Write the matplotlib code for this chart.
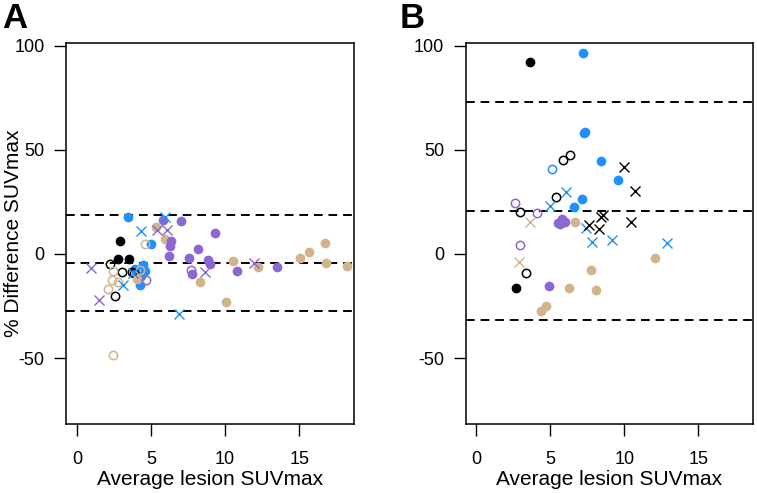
import matplotlib.pyplot as plt
import numpy as np

plt.rcParams['font.family'] = ['Liberation Sans', 'DejaVu Sans']
plt.rcParams['axes.unicode_minus'] = False

BLUE = '#1E90FF'
PURPLE = '#8C67D2'
TAN = '#D2B48C'
BLACK = '#000000'

# panel A: (x = average SUVmax, y = % difference)
a_blue_dot_x = [3.42, 5.0, 4.45, 4.6, 4.25, 3.9, 4.35]
a_blue_dot_y = [17.9, 4.7, -5.3, -8.3, -14.9, -7.0, -10.5]
a_black_dot_x = [2.9, 2.8, 3.53]
a_black_dot_y = [6.4, -2.3, -2.3]
a_black_open_x = [2.23, 3.02, 3.72, 3.82, 2.57]
a_black_open_y = [-4.8, -8.8, -8.6, -8.9, -20.0]
a_tan_open_x = [4.6, 2.45, 2.34, 2.12, 2.8, 4.26, 2.41]
a_tan_open_y = [4.7, -8.0, -12.3, -16.7, -13.3, -7.9, -48.7]
a_tan_dot_x = [5.36, 5.93, 4.06, 8.3, 10.07, 10.5, 12.2, 15.07, 15.63, 16.72, 16.82, 18.2]
a_tan_dot_y = [13.1, 7.1, -12.0, -13.6, -23.2, -3.3, -6.2, -1.7, 0.8, 5.4, -4.2, -5.6]
a_purple_dot_x = [5.79, 7.05, 9.3, 6.37, 6.28, 6.24, 8.15, 7.55, 8.83, 8.98, 7.75, 10.83, 13.48]
a_purple_dot_y = [16.3, 15.7, 10.3, 6.4, 3.8, -1.0, 2.3, -1.7, -2.9, -4.6, -9.6, -8.1, -6.1]
a_purple_open_x = [7.68, 4.65]
a_purple_open_y = [-7.8, -12.3]
a_purple_x_x = [0.95, 1.49, 5.38, 6.06, 8.62, 11.95]
a_purple_x_y = [-6.9, -22.0, 11.5, 11.7, -8.8, -4.2]
a_blue_x_x = [4.29, 5.95, 6.87, 3.13, 3.8]
a_blue_x_y = [11.0, 17.9, -28.9, -14.9, -8.9]
a_limits = [18.75, -4.2, -27.2]

# panel B
b_black_dot_x = [3.65, 2.66]
b_black_dot_y = [92.5, -16.2]
b_blue_dot_x = [7.2, 7.25, 7.35, 8.45, 9.57, 7.12, 6.6]
b_blue_dot_y = [96.8, 58.3, 58.6, 44.9, 35.6, 26.3, 22.8]
b_blue_open_x = [5.13]
b_blue_open_y = [40.7]
b_black_open_x = [5.85, 6.33, 5.36, 2.93, 3.33]
b_black_open_y = [45.2, 47.6, 27.6, 20.3, -9.0]
b_purple_open_x = [2.63, 4.12, 2.93]
b_purple_open_y = [24.7, 19.9, 4.3]
b_purple_dot_x = [5.5, 5.8, 6.0, 5.65, 4.91]
b_purple_dot_y = [15.0, 16.6, 15.4, 14.6, -15.2]
b_tan_dot_x = [6.64, 7.72, 8.1, 6.24, 4.73, 4.39, 12.1]
b_tan_dot_y = [15.2, -7.7, -17.3, -16.2, -24.8, -27.2, -1.8]
b_tan_x_x = [3.6, 2.88]
b_tan_x_y = [15.5, -3.7]
b_blue_x_x = [4.95, 6.03, 7.43, 7.8, 9.18, 12.88]
b_blue_x_y = [23.1, 30.0, 12.7, 5.9, 6.5, 5.5]
b_black_x_x = [9.95, 10.7, 8.55, 8.45, 7.61, 8.28, 10.47]
b_black_x_y = [42.0, 30.3, 18.8, 17.9, 13.9, 11.9, 15.2]
b_limits = [73.2, 20.7, -31.7]

fig = plt.figure(figsize=(7.57, 4.93), dpi=100)
axA = fig.add_axes([66 / 757, 1 - 424 / 493, 288 / 757, 381 / 493])
axB = fig.add_axes([465.5 / 757, 1 - 424 / 493, 287.5 / 757, 381 / 493])

ms = 7.0


def dots(ax, x, y, c):
    ax.plot(x, y, 'o', ms=ms, color=c, mec=c, mew=0, zorder=3)


def opens(ax, x, y, c):
    ax.plot(x, y, 'o', ms=ms - 1, mfc='none', mec=c, mew=1.1, zorder=3)


def crosses(ax, x, y, c):
    ax.plot(x, y, 'x', ms=ms + 0.5, color=c, mew=1.0, zorder=3)


def style(ax, limits):
    for v in limits:
        ax.axhline(v, color='black', lw=1.4, ls=(0, (4.5, 3)), zorder=2)
    ax.set_xlim(-0.74, 18.7)
    ax.set_ylim(-81.7, 101.4)
    ax.set_xticks([0, 5, 10, 15])
    ax.set_yticks([-50, 0, 50, 100])
    ax.tick_params(direction='out', length=8.5, width=1.0, labelsize=13, pad=7)
    ax.tick_params(axis='x', pad=11)
    for s in ax.spines.values():
        s.set_linewidth(1.1)
    ax.set_xlabel('Average lesion SUVmax', fontsize=15)
    ax.xaxis.set_label_coords(0.5, -0.121)


dots(axA, a_blue_dot_x, a_blue_dot_y, BLUE)
dots(axA, a_black_dot_x, a_black_dot_y, BLACK)
opens(axA, a_black_open_x, a_black_open_y, BLACK)
opens(axA, a_tan_open_x, a_tan_open_y, TAN)
dots(axA, a_tan_dot_x, a_tan_dot_y, TAN)
dots(axA, a_purple_dot_x, a_purple_dot_y, PURPLE)
opens(axA, a_purple_open_x, a_purple_open_y, PURPLE)
crosses(axA, a_purple_x_x, a_purple_x_y, PURPLE)
crosses(axA, a_blue_x_x, a_blue_x_y, BLUE)
style(axA, a_limits)
axA.set_ylabel('% Difference SUVmax', fontsize=15)
axA.yaxis.set_label_coords(-0.148, 0.5)

dots(axB, b_black_dot_x, b_black_dot_y, BLACK)
dots(axB, b_blue_dot_x, b_blue_dot_y, BLUE)
opens(axB, b_blue_open_x, b_blue_open_y, BLUE)
opens(axB, b_black_open_x, b_black_open_y, BLACK)
opens(axB, b_purple_open_x, b_purple_open_y, PURPLE)
dots(axB, b_purple_dot_x, b_purple_dot_y, PURPLE)
dots(axB, b_tan_dot_x, b_tan_dot_y, TAN)
crosses(axB, b_tan_x_x, b_tan_x_y, TAN)
crosses(axB, b_blue_x_x, b_blue_x_y, BLUE)
crosses(axB, b_black_x_x, b_black_x_y, BLACK)
style(axB, b_limits)

fig.text(2 / 757, 1 - 2 / 493, 'A', fontsize=25, fontweight='bold', va='top', ha='left')
fig.text(400 / 757, 1 - 2 / 493, 'B', fontsize=25, fontweight='bold', va='top', ha='left')

fig.savefig('out.png', dpi=100)
